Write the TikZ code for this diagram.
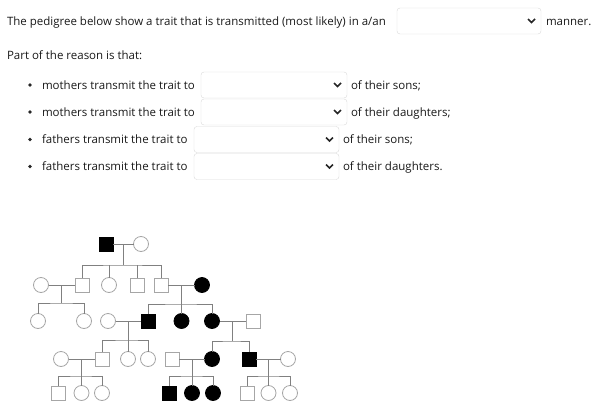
\documentclass[tikz,border=0pt]{standalone}
\usepackage{fontspec}
\setmainfont{Open Sans}
\usetikzlibrary{calc}

\begin{document}
\begin{tikzpicture}[x=1pt,y=-1pt]
		\tikzstyle{every node}=[inner sep=0pt, outer sep=0pt]
		\tikzstyle{txt}=[anchor=base west, font=\fontsize{11.5}{13}\selectfont, text=black!90]
		\tikzstyle{menu}=[draw=black!15, rounded corners=3pt, minimum height=26pt, anchor=west]
		\tikzstyle{chev}=[line width=1.5pt, black!85]
		\tikzstyle{male}=[draw=black!35, line width=0.8pt, fill=white, minimum size=14pt]
		\tikzstyle{female}=[circle, draw=black!35, line width=0.8pt, fill=white, minimum size=15pt]
		\tikzstyle{aff}=[draw=black, fill=black]
		\tikzstyle{link}=[black!50, line width=0.8pt]
		\useasboundingbox (0,0) rectangle (595,410);

		% question text
		\node[txt] (q0) at (7,25) {The pedigree below show a trait that is transmitted (most likely) in a/an};
		\node[menu, minimum width=144pt] (d0) at (397,21) {};
		\node[txt] (q0b) at (546,25) {manner.};
		\node[txt] (q1) at (7,59) {Part of the reason is that:};

		\node[txt] (r1) at (42,89) {mothers transmit the trait to};
		\node[menu, minimum width=146pt] (d1) at (201,85) {};
		\node[txt] (r1b) at (351,89) {of their sons;};
		\node[txt] (r2) at (42,116) {mothers transmit the trait to};
		\node[menu, minimum width=146pt] (d2) at (201,112) {};
		\node[txt] (r2b) at (351,116) {of their daughters;};
		\node[txt] (r3) at (42,143.5) {fathers transmit the trait to};
		\node[menu, minimum width=145pt] (d3) at (194,139.5) {};
		\node[txt] (r3b) at (343,143.5) {of their sons;};
		\node[txt] (r4) at (42,170.5) {fathers transmit the trait to};
		\node[menu, minimum width=145pt] (d4) at (194,166.5) {};
		\node[txt] (r4b) at (343,170.5) {of their daughters.};

		\foreach \y in {85,112,139.5,166.5}
			\fill[black!85] (30,\y) circle (1.8pt);
		\foreach \d in {d0,d1,d2,d3,d4}
			\draw[chev] ($(\d.east)+(-13,-2)$) -- ++(3.5,3.5) -- ++(3.5,-3.5);

		% pedigree
		\node[male, aff] (A1) at (106,244) {};
		\node[female] (A2) at (141,244) {};

		\node[female] (B1) at (41,285) {};
		\node[male] (B2) at (82,285) {};
		\node[female] (B3) at (109,285) {};
		\node[male] (B4) at (137,285) {};
		\node[male] (B5) at (161,285) {};
		\node[female, aff] (B6) at (202,285) {};

		\node[female] (C1) at (38,321) {};
		\node[female] (C2) at (84,321) {};
		\node[female] (C3) at (108,321) {};
		\node[male, aff] (C4) at (148,321) {};
		\node[female, aff] (C5) at (181.5,321) {};
		\node[female, aff] (C6) at (212,321) {};
		\node[male] (C7) at (253,321) {};

		\node[female] (D1) at (61,359) {};
		\node[male] (D2) at (102,359) {};
		\node[female] (D3) at (128,359) {};
		\node[female] (D4) at (148,359) {};
		\node[male] (D5) at (172,359) {};
		\node[female, aff] (D6) at (212,359) {};
		\node[male, aff] (D7) at (249,359) {};
		\node[female] (D8) at (288,359) {};

		\node[male] (E1) at (58,393) {};
		\node[female] (E2) at (81.5,393) {};
		\node[female] (E3) at (102,393) {};
		\node[male, aff] (E4) at (169,393) {};
		\node[female, aff] (E5) at (192,393) {};
		\node[female, aff] (E6) at (213,393) {};
		\node[male] (E7) at (247,393) {};
		\node[female] (E8) at (268.5,393) {};
		\node[female] (E9) at (290,393) {};

		\coordinate (m1) at ($(A1)!0.5!(A2)$);
		\coordinate (m2) at ($(B1)!0.5!(B2)$);
		\coordinate (m3) at ($(B5)!0.5!(B6)$);
		\coordinate (m4) at ($(C3)!0.5!(C4)$);
		\coordinate (m5) at ($(C6)!0.5!(C7)$);
		\coordinate (m6) at ($(D1)!0.5!(D2)$);
		\coordinate (m7) at ($(D5)!0.5!(D6)$);
		\coordinate (m8) at ($(D7)!0.5!(D8)$);
		\coordinate (s1) at (m1 |- 0,265);
		\coordinate (s2) at (m2 |- 0,303);
		\coordinate (s3) at (m3 |- 0,304);
		\coordinate (s4) at (m4 |- 0,340);
		\coordinate (s5) at (m5 |- 0,341);
		\coordinate (s6) at (m6 |- 0,376);
		\coordinate (s7) at (m7 |- 0,376);
		\coordinate (s8) at (m8 |- 0,376);

		\draw [link] (A1) -- (A2);
		\draw [link] (m1) -- (s1);
		\draw [link] (B2.north) |- (s1) -| (B5.north);
		\draw [link] (B3.north) -- (B3.north |- s1);
		\draw [link] (B4.north) -- (B4.north |- s1);

		\draw [link] (B1) -- (B2);
		\draw [link] (m2) -- (s2);
		\draw [link] (C1.north) |- (s2) -| (C2.north);

		\draw [link] (B5) -- (B6);
		\draw [link] (m3) -- (s3);
		\draw [link] (C4.north) |- (s3) -| (C6.north);
		\draw [link] (C5.north) -- (C5.north |- s3);

		\draw [link] (C3) -- (C4);
		\draw [link] (m4) -- (s4);
		\draw [link] (D2.north) |- (s4) -| (D4.north);
		\draw [link] (D3.north) -- (D3.north |- s4);

		\draw [link] (C6) -- (C7);
		\draw [link] (m5) -- (s5);
		\draw [link] (D6.north) |- (s5) -| (D7.north);

		\draw [link] (D1) -- (D2);
		\draw [link] (m6) -- (s6);
		\draw [link] (E1.north) |- (s6) -| (E3.north);
		\draw [link] (E2.north) -- (E2.north |- s6);

		\draw [link] (D5) -- (D6);
		\draw [link] (m7) -- (s7);
		\draw [link] (E4.north) |- (s7) -| (E6.north);
		\draw [link] (E5.north) -- (E5.north |- s7);

		\draw [link] (D7) -- (D8);
		\draw [link] (m8) -- (s8);
		\draw [link] (E7.north) |- (s8) -| (E9.north);
		\draw [link] (E8.north) -- (E8.north |- s8);
	\end{tikzpicture}
\end{document}
